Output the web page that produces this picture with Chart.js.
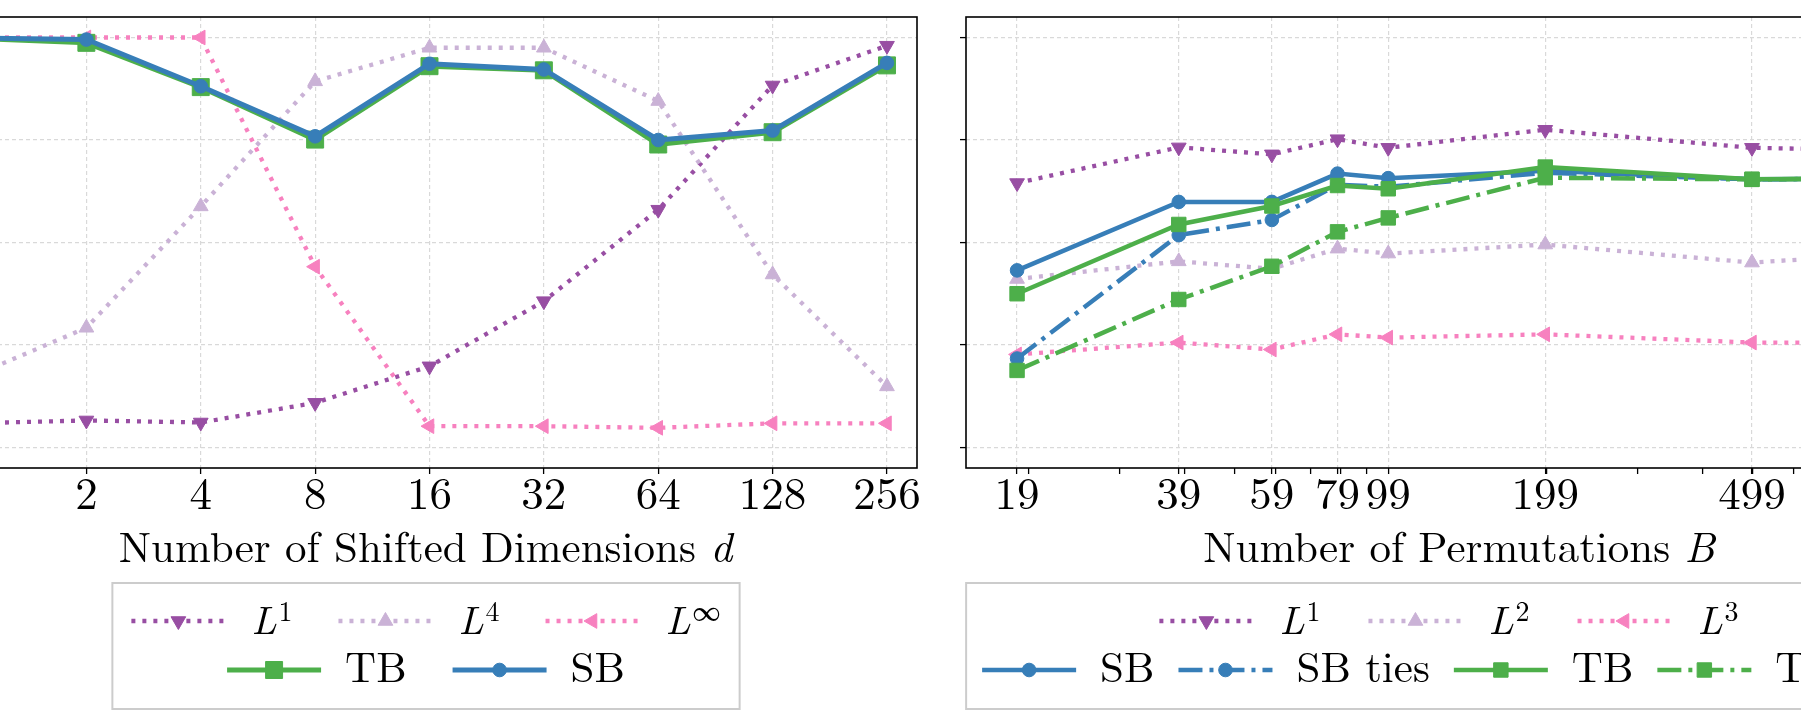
<!DOCTYPE html>
<html>
<head>
<meta charset="utf-8">
<script src="https://cdn.jsdelivr.net/npm/chart.js@4/dist/chart.umd.min.js"></script>
<style>
  html, body { margin: 0; padding: 0; background: #fff; }
  body { width: 1801px; height: 728px; overflow: hidden; position: relative; }
  canvas { position: absolute; top: 0; }
  #left { left: -160px; }
  #right { left: 940px; }
  #fontwarm { position: absolute; left: -9999px; top: 0; font-family: 'Latin Modern Roman'; }
</style>
</head>
<body>
<div id="fontwarm">Number <i>d B L</i></div>
<canvas id="left" width="1090" height="728"></canvas>
<canvas id="right" width="1059" height="728"></canvas>
<script>
// left panel: power vs number of shifted dimensions
const dims = [1, 2, 4, 8, 16, 32, 64, 128, 256];
const l1Shift = [0.059, 0.066, 0.061, 0.109, 0.198, 0.357, 0.580, 0.883, 0.980];
const l4Shift = [0.173, 0.292, 0.588, 0.893, 0.975, 0.975, 0.845, 0.422, 0.149];
const linfShift = [1.0, 1.0, 1.0, 0.441, 0.052, 0.052, 0.048, 0.059, 0.059];
const tbShift = [0.998, 0.987, 0.879, 0.751, 0.930, 0.920, 0.739, 0.769, 0.932];
const sbShift = [0.999, 0.995, 0.881, 0.759, 0.936, 0.922, 0.750, 0.773, 0.938];

// right panel: power vs number of permutations
const perms = [19, 39, 59, 79, 99, 199, 499, 999];
const permMinor = [20, 30, 40, 50, 60, 70, 80, 90, 200, 300, 400, 500, 600, 700, 800, 900];
const l1Perm = [0.645, 0.732, 0.715, 0.752, 0.731, 0.775, 0.731, 0.724];
const l2Perm = [0.411, 0.454, 0.436, 0.485, 0.473, 0.495, 0.451, 0.475];
const l3Perm = [0.227, 0.256, 0.239, 0.276, 0.268, 0.276, 0.256, 0.256];
const sbPerm = [0.432, 0.599, 0.599, 0.668, 0.657, 0.675, 0.654, 0.656];
const sbTiesPerm = [0.217, 0.518, 0.555, 0.641, 0.636, 0.670, 0.654, 0.656];
const tbPerm = [0.375, 0.544, 0.589, 0.639, 0.631, 0.684, 0.654, 0.657];
const tbTiesPerm = [0.188, 0.361, 0.442, 0.526, 0.560, 0.658, 0.654, 0.656];

const yTicks = [0, 0.25, 0.5, 0.75, 1.0];

const FONT = '"Latin Modern Roman", "Liberation Serif", serif';
Chart.defaults.font.family = FONT;
Chart.defaults.color = '#000';

const PURPLE = '#984ea3', LILAC = '#cab2d6', PINK = '#f781bf', GREEN = '#4daf4a', BLUE = '#377eb8';

const LINES = {
  dotted: { borderDash: [4, 7], borderWidth: 4.3 },
  solid: { borderDash: [], borderWidth: 5 },
  dashdot: { borderDash: [24, 7, 4, 7], borderWidth: 4.5 }
};
const MARKS = {
  down: { pointStyle: 'triangle', rot: 180, r: 8.5 },
  up: { pointStyle: 'triangle', rot: 0, r: 8.5 },
  left: { pointStyle: 'triangle', rot: -90, r: 8.5 },
  square: { pointStyle: 'rect', rot: 0, r: 12 },
  circle: { pointStyle: 'circle', rot: 0, r: 6.8 }
};

function makeSet(label, xs, ys, color, line, mark, order, rScale) {
  const l = LINES[line], m = MARKS[mark];
  return {
    label,
    data: xs.map((x, i) => ({ x, y: ys[i] })),
    borderColor: color,
    backgroundColor: color,
    borderWidth: line === 'solid' && rScale < 1 ? 4.5 : l.borderWidth,
    borderDash: l.borderDash,
    borderCapStyle: 'butt',
    tension: 0,
    fill: false,
    pointStyle: m.pointStyle,
    pointRotation: m.rot,
    pointRadius: m.pointStyle === 'rect' ? m.r * rScale : m.r,
    pointBackgroundColor: color,
    pointBorderColor: color,
    pointBorderWidth: 1,
    order
  };
}

function drawLabel(ctx, label, x, y, draw) {
  const i = label.indexOf('^');
  if (i < 0) {
    ctx.font = '43px ' + FONT;
    if (draw) ctx.fillText(label, x, y + 12);
    return ctx.measureText(label).width;
  }
  const base = label.slice(0, i), sup = label.slice(i + 1);
  ctx.font = 'italic 40px ' + FONT;
  const wb = ctx.measureText(base).width;
  if (draw) ctx.fillText(base, x + 2, y + 13);
  ctx.font = '28px ' + FONT;
  const ws = ctx.measureText(sup).width;
  if (draw) ctx.fillText(sup, x + wb + 4, y);
  return wb + 4 + ws;
}

function drawMarker(ctx, ds, x, y) {
  ctx.setLineDash([]);
  ctx.fillStyle = ds.pointBackgroundColor;
  ctx.strokeStyle = ds.pointBorderColor;
  ctx.lineWidth = 1;
  Chart.helpers.drawPoint(ctx, {
    pointStyle: ds.pointStyle, rotation: ds.pointRotation,
    radius: ds.pointRadius, borderWidth: 1
  }, x, y);
}

// axis title (with italic symbol) and framed legend under each panel
const panelText = {
  id: 'panelText',
  afterDraw(chart, args, opts) {
    const ctx = chart.ctx, area = chart.chartArea;
    const mid = (area.left + area.right) / 2;
    ctx.save();
    ctx.fillStyle = '#000';
    ctx.textBaseline = 'alphabetic';

    let tw = 0;
    const parts = opts.title.map((t, k) => {
      ctx.font = (k === 1 ? 'italic ' : '') + '43px ' + FONT;
      const w = ctx.measureText(t).width;
      tw += w;
      return { t, w, italic: k === 1 };
    });
    let tx = mid + opts.titleShift - tw / 2;
    parts.forEach(p => {
      ctx.font = (p.italic ? 'italic ' : '') + '43px ' + FONT;
      ctx.fillText(p.t, tx, opts.titleY);
      tx += p.w;
    });

    const sets = chart.data.datasets;
    const HL = 94, HG = 24;
    const rowW = opts.rows.map((row, r) => {
      let w = 0;
      row.forEach((di, k) => {
        w += HL + HG + drawLabel(ctx, sets[di].label, 0, 0, false);
        if (k) w += opts.colGap[r];
      });
      return w;
    });
    const cx = mid + opts.legendShift;
    const boxW = Math.max(...rowW) + 2 * opts.padX;
    ctx.fillStyle = '#fff';
    ctx.strokeStyle = '#cccccc';
    ctx.lineWidth = 2;
    ctx.setLineDash([]);
    ctx.fillRect(cx - boxW / 2, opts.boxTop, boxW, opts.boxBottom - opts.boxTop);
    ctx.strokeRect(cx - boxW / 2, opts.boxTop, boxW, opts.boxBottom - opts.boxTop);

    opts.rows.forEach((row, r) => {
      const y = opts.rowY[r];
      let x = cx - rowW[r] / 2;
      row.forEach(di => {
        const ds = sets[di];
        ctx.setLineDash(ds.borderDash);
        ctx.lineCap = 'butt';
        ctx.lineWidth = ds.borderWidth;
        ctx.strokeStyle = ds.borderColor;
        ctx.beginPath();
        ctx.moveTo(x, y);
        ctx.lineTo(x + HL, y);
        ctx.stroke();
        drawMarker(ctx, ds, x + HL / 2, y);
        ctx.fillStyle = '#000';
        x += HL + HG;
        x += drawLabel(ctx, ds.label, x, y, true) + opts.colGap[r];
      });
    });
    ctx.restore();
  },
  afterDatasetsDraw(chart) {
    const ctx = chart.ctx, a = chart.chartArea;
    ctx.save();
    ctx.strokeStyle = '#000';
    ctx.lineWidth = 1.6;
    ctx.setLineDash([]);
    ctx.strokeRect(a.left, a.top, a.right - a.left, a.bottom - a.top);
    ctx.restore();
  }
};

function xScale(min, max, majors, minors) {
  return {
    type: 'logarithmic',
    min, max,
    afterBuildTicks: s => {
      s.ticks = majors.map(v => ({ value: v, minor: false }))
        .concat(minors.map(v => ({ value: v, minor: true })))
        .sort((a, b) => a.value - b.value);
    },
    afterFit: s => { s.height = 60; },
    ticks: {
      autoSkip: false, maxRotation: 0, padding: 0,
      font: { size: 45, lineHeight: 0.95 },
      callback: (v, i, ticks) => ticks[i].minor ? '' : String(v)
    },
    grid: {
      color: c => (c.tick && c.tick.minor) ? 'rgba(0,0,0,0)' : '#d9d9d9',
      lineWidth: 1.2,
      tickColor: '#000', tickWidth: 1.3, tickLength: 6
    },
    border: { display: false, dash: [4, 3] }
  };
}

function yScale(width, showLabels) {
  return {
    type: 'linear',
    min: -0.05, max: 1.05,
    afterBuildTicks: s => { s.ticks = yTicks.map(v => ({ value: v })); },
    afterFit: s => { s.width = width; },
    ticks: { display: showLabels, font: { size: 20 }, callback: v => v.toFixed(2) },
    grid: { color: '#d9d9d9', lineWidth: 1.2, tickColor: '#000', tickWidth: 1.3, tickLength: 6 },
    border: { display: false, dash: [4, 3] }
  };
}

function baseOptions(xs, yWidth, showY, pad, text) {
  return {
    responsive: false,
    animation: false,
    events: [],
    layout: { padding: pad },
    scales: { x: xs, y: yScale(yWidth, showY) },
    plugins: { legend: { display: false }, tooltip: { enabled: false }, panelText: text }
  };
}

const leftChart = new Chart(document.getElementById('left'), {
  type: 'line',
  data: {
    datasets: [
      makeSet('L^1', dims, l1Shift, PURPLE, 'dotted', 'down', 4, 1),
      makeSet('L^4', dims, l4Shift, LILAC, 'dotted', 'up', 3, 1),
      makeSet('L^\u221E', dims, linfShift, PINK, 'dotted', 'left', 2, 1),
      makeSet('TB', dims, tbShift, GREEN, 'solid', 'square', 1, 1),
      makeSet('SB', dims, sbShift, BLUE, 'solid', 'circle', 0, 1)
    ]
  },
  options: baseOptions(
    xScale(Math.pow(2, -0.2625), 256 * Math.pow(2, 0.2625), dims, []),
    90, true,
    { left: 12, right: 13, top: 17, bottom: 200 },
    {
      title: ['Number of Shifted Dimensions ', 'd'],
      titleY: 562, titleShift: -4,
      rows: [[0, 1, 2], [3, 4]], colGap: [46, 46],
      rowY: [621, 670], boxTop: 583, boxBottom: 709, padX: 19, legendShift: -3.5
    }
  ),
  plugins: [panelText]
});

const rightChart = new Chart(document.getElementById('right'), {
  type: 'line',
  data: {
    datasets: [
      makeSet('L^1', perms, l1Perm, PURPLE, 'dotted', 'down', 6, 0.85),
      makeSet('L^2', perms, l2Perm, LILAC, 'dotted', 'up', 5, 0.85),
      makeSet('L^3', perms, l3Perm, PINK, 'dotted', 'left', 4, 0.85),
      makeSet('SB', perms, sbPerm, BLUE, 'solid', 'circle', 3, 0.85),
      makeSet('SB ties', perms, sbTiesPerm, BLUE, 'dashdot', 'circle', 2, 0.85),
      makeSet('TB', perms, tbPerm, GREEN, 'solid', 'square', 1, 0.85),
      makeSet('TB ties', perms, tbTiesPerm, GREEN, 'dashdot', 'square', 0, 0.85)
    ]
  },
  options: baseOptions(
    xScale(15.14, 1253, perms, permMinor),
    26, false,
    { left: 0, right: 40, top: 17, bottom: 200 },
    {
      title: ['Number of Permutations ', 'B'],
      titleY: 562, titleShift: -3.5,
      rows: [[0, 1, 2], [3, 4, 5, 6]], colGap: [48, 24],
      rowY: [621, 670], boxTop: 583, boxBottom: 709, padX: 16, legendShift: -13.5
    }
  ),
  plugins: [panelText]
});

// redraw once the LaTeX-like font is ready
Promise.all([
  document.fonts.load('43px "Latin Modern Roman"'),
  document.fonts.load('italic 43px "Latin Modern Roman"')
]).then(() => { leftChart.update('none'); rightChart.update('none'); }, () => {});
</script>
</body>
</html>
